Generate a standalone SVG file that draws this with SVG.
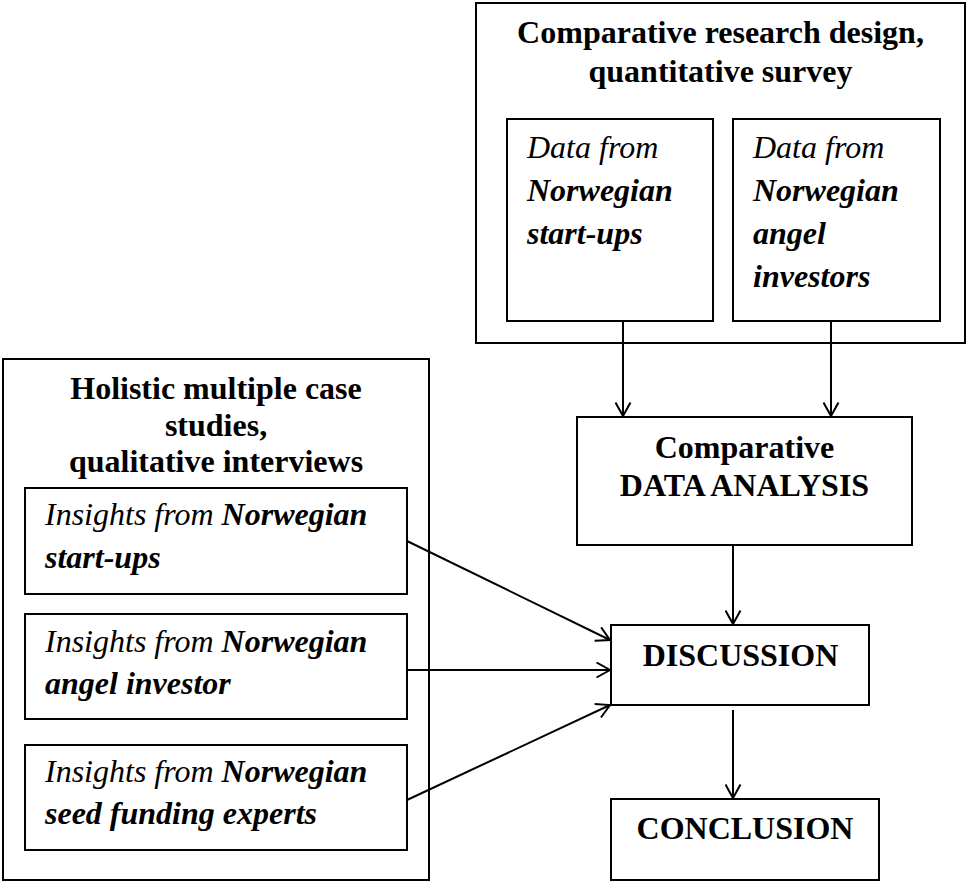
<svg xmlns="http://www.w3.org/2000/svg" width="966" height="884" viewBox="0 0 966 884">
<style>
.box{fill:#fff;stroke:#000;stroke-width:2}
.t{font-family:"Liberation Serif","Times New Roman",serif;font-size:32px;fill:#000}
.b{font-weight:bold}
.i{font-style:italic}
.bi{font-weight:bold;font-style:italic}
.c{text-anchor:middle}
#connectors line{stroke:#000;stroke-width:2;marker-end:url(#ah)}
</style>
<defs>
<marker id="ah" markerUnits="userSpaceOnUse" viewBox="0 0 16 17" refX="14.5" refY="8.5" markerWidth="16" markerHeight="17" orient="auto">
<path d="M1,1 L14.5,8.5 L1,16" fill="none" stroke="#000" stroke-width="2"/>
</marker>
</defs>
<rect width="966" height="884" fill="#fff"/>

<g id="quant-design">
<rect class="box" x="476" y="3" width="489" height="340"/>
<text class="t b c" x="720.5" y="43">Comparative research design,</text>
<text class="t b c" x="720.5" y="82">quantitative survey</text>
</g>

<g id="data-startups">
<rect class="box" x="507" y="119" width="206" height="202"/>
<text class="t i" x="527" y="158">Data from</text>
<text class="t bi" x="527" y="201">Norwegian</text>
<text class="t bi" x="527" y="244">start-ups</text>
</g>

<g id="data-angels">
<rect class="box" x="733" y="119" width="207" height="202"/>
<text class="t i" x="753" y="158">Data from</text>
<text class="t bi" x="753" y="201">Norwegian</text>
<text class="t bi" x="753" y="244">angel</text>
<text class="t bi" x="753" y="287">investors</text>
</g>

<g id="qual-cases">
<rect class="box" x="3" y="359" width="426" height="521"/>
<text class="t b c" x="216" y="399">Holistic multiple case</text>
<text class="t b c" x="216" y="436">studies,</text>
<text class="t b c" x="216" y="472">qualitative interviews</text>
</g>

<g id="insights-startups">
<rect class="box" x="25" y="488" width="382" height="106"/>
<text class="t" x="45" y="525"><tspan class="i">Insights from </tspan><tspan class="bi">Norwegian</tspan></text>
<text class="t bi" x="45" y="568">start-ups</text>
</g>

<g id="insights-angel">
<rect class="box" x="25" y="614" width="382" height="105"/>
<text class="t" x="45" y="652"><tspan class="i">Insights from </tspan><tspan class="bi">Norwegian</tspan></text>
<text class="t bi" x="45" y="694">angel investor</text>
</g>

<g id="insights-experts">
<rect class="box" x="25" y="745" width="382" height="105"/>
<text class="t" x="45" y="782"><tspan class="i">Insights from </tspan><tspan class="bi">Norwegian</tspan></text>
<text class="t bi" x="45" y="824">seed funding experts</text>
</g>

<g id="analysis">
<rect class="box" x="577" y="417" width="335" height="128"/>
<text class="t b c" x="744.5" y="458">Comparative</text>
<text class="t b c" x="744.5" y="496">DATA ANALYSIS</text>
</g>

<g id="discussion">
<rect class="box" x="611" y="625" width="258" height="80"/>
<text class="t b c" x="740.5" y="666">DISCUSSION</text>
</g>

<g id="conclusion">
<rect class="box" x="611" y="799" width="268" height="81"/>
<text class="t b c" x="745" y="839">CONCLUSION</text>
</g>

<g id="connectors">
<line x1="623" y1="321" x2="623" y2="416"/>
<line x1="831" y1="321" x2="831" y2="416"/>
<line x1="733" y1="545" x2="733" y2="624"/>
<line x1="733" y1="710" x2="733" y2="798"/>
<line x1="407" y1="541" x2="610" y2="640"/>
<line x1="407" y1="670" x2="610" y2="670"/>
<line x1="407" y1="800" x2="610" y2="705"/>
</g>
</svg>
